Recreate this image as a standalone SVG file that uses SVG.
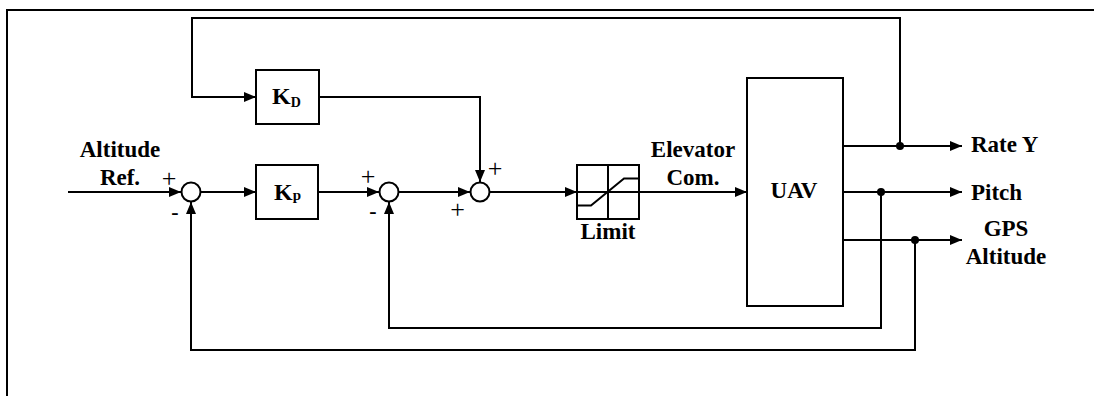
<svg xmlns="http://www.w3.org/2000/svg" width="1094" height="396" viewBox="0 0 1094 396">
<defs>
<marker id="arr" markerUnits="userSpaceOnUse" markerWidth="12" markerHeight="10" refX="12" refY="5" orient="auto">
<path d="M0,0 L12,5 L0,10 z" fill="#000"/>
</marker>
<style>
.ln{fill:none;stroke:#000;stroke-width:2}
.ar{fill:none;stroke:#000;stroke-width:2;marker-end:url(#arr)}
.box{fill:#fff;stroke:#000;stroke-width:2}
.sum{fill:#fff;stroke:#000;stroke-width:2}
.dot{fill:#000}
.t{font-family:"Liberation Serif","Times New Roman",serif;font-weight:bold;font-size:23px;fill:#000}
.k{font-family:"Liberation Serif","Times New Roman",serif;font-weight:bold;font-size:24px;fill:#000}
.plus{font-family:"Liberation Serif","Times New Roman",serif;font-size:26px;fill:#000;text-anchor:middle}
.minus{font-family:"Liberation Serif","Times New Roman",serif;font-weight:bold;font-size:22px;fill:#000;text-anchor:middle}
.c{text-anchor:middle}
</style>
</defs>
<rect width="1094" height="396" fill="#fff"/>
<g id="frame">
<path class="ln" d="M7,396 V10 H1094"/>
</g>
<g id="connectors">
<path class="ar" d="M68,192 H181"/>
<path class="ar" d="M201,192 H256"/>
<path class="ar" d="M318,192 H379"/>
<path class="ar" d="M399,192 H470"/>
<path class="ar" d="M490,192 H577"/>
<path class="ar" d="M639,192 H747"/>
<path class="ar" d="M843,146 H962"/>
<path class="ar" d="M843,192 H962"/>
<path class="ar" d="M843,240 H962"/>
<path class="ar" d="M900,146 V18 H192 V97 H256"/>
<path class="ar" d="M319,97 H480 V182"/>
<path class="ar" d="M881,192 V328 H389 V202"/>
<path class="ar" d="M915,240 V350 H191 V202"/>
<circle class="dot" cx="900" cy="146" r="4"/>
<circle class="dot" cx="881" cy="192" r="4"/>
<circle class="dot" cx="915" cy="240" r="4"/>
</g>
<g id="input-label">
<text class="t c" x="120" y="157">Altitude</text>
<text class="t c" x="120" y="185">Ref.</text>
</g>
<g id="sum1">
<circle class="sum" cx="191" cy="192" r="9.5"/>
<text class="plus" x="169" y="187">+</text>
<text class="minus" x="175" y="219">-</text>
</g>
<g id="kp">
<rect class="box" x="256" y="165" width="62" height="54"/>
<text class="k" x="274" y="199.5">K<tspan font-size="15">p</tspan></text>
</g>
<g id="kd">
<rect class="box" x="256" y="70" width="63" height="54"/>
<text class="k" x="272" y="104">K<tspan font-size="14" dy="2.7">D</tspan></text>
</g>
<g id="sum2">
<circle class="sum" cx="389" cy="192" r="9.5"/>
<text class="plus" x="368" y="185">+</text>
<text class="minus" x="373" y="218">-</text>
</g>
<g id="sum3">
<circle class="sum" cx="480" cy="192" r="9.5"/>
<text class="plus" x="495" y="177">+</text>
<text class="plus" x="457.5" y="218">+</text>
</g>
<g id="limit">
<rect class="box" x="577" y="165" width="62" height="54"/>
<path class="ln" d="M608,165 V219 M577,192 H639 M577,205.5 H591 L624,178.5 H639"/>
<text class="t c" x="608" y="239">Limit</text>
</g>
<g id="elevator-label">
<text class="t c" x="693" y="157">Elevator</text>
<text class="t c" x="693" y="185">Com.</text>
</g>
<g id="uav">
<rect class="box" x="747" y="78" width="96" height="228"/>
<text class="t c" x="794" y="198">UAV</text>
</g>
<g id="outputs">
<text class="t" x="971" y="152">Rate Y</text>
<text class="t" x="971" y="200">Pitch</text>
<text class="t c" x="1006" y="236">GPS</text>
<text class="t c" x="1006" y="264">Altitude</text>
</g>
</svg>
